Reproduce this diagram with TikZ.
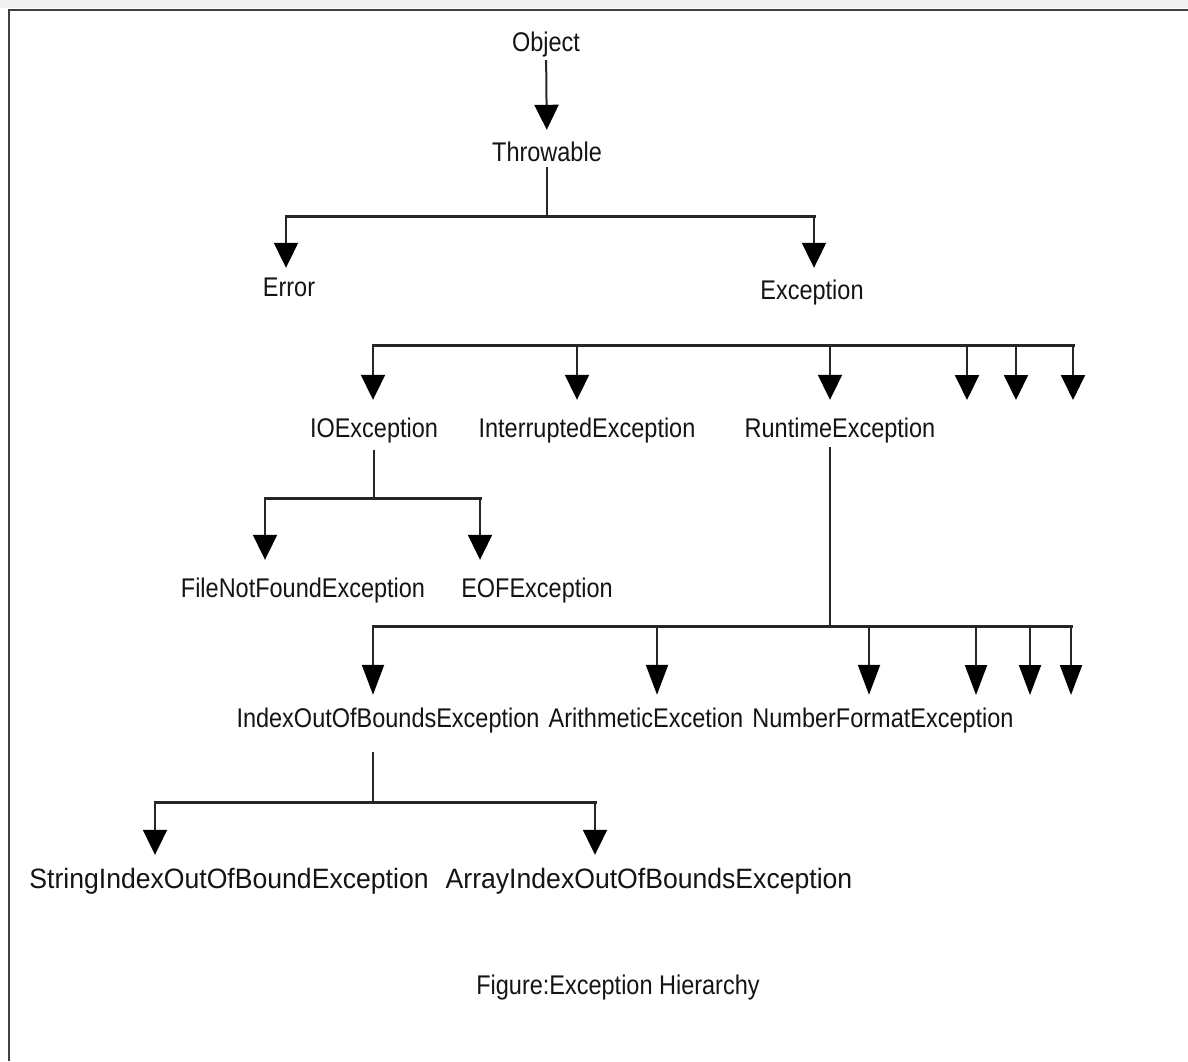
\documentclass[tikz,border=0pt]{standalone}
\usepackage{fontspec}
\newfontfamily\lab{Liberation Sans}[FakeStretch=0.87]
\newfontfamily\labb{Liberation Sans}[FakeStretch=0.95]
\usetikzlibrary{arrows.meta}
\begin{document}
\begin{tikzpicture}[x=1pt,y=-1pt,
  lbl/.style={font=\lab\fontsize{27}{30}\selectfont, text=black!92, inner xsep=0pt, inner ysep=9.5pt, text height=19pt, text depth=6pt},
  lblb/.style={lbl, font=\labb\fontsize{28}{30}\selectfont},
  stem/.style={line width=2pt, draw=black!85},
  bar/.style={line width=3pt, draw=black!85, line cap=rect},
  arr/.style={stem, -{Triangle[width=24pt,length=25pt,fill=black,color=black]}, shorten >=3pt},
  arrl/.style={stem, -{Triangle[width=22pt,length=30pt,fill=black,color=black]}, shorten >=4pt}
]
\useasboundingbox (0,0) rectangle (1188,1061);
\fill[white] (0,0) rectangle (1188,1061);
\fill[black!6] (0,0) rectangle (1188,8);
\draw[line width=2.5pt, black!75] (9,1061) -- (9,10) -- (1188,10);

% nodes
\node[lbl] (object) at (546,45) {Object};
\node[lbl] (throw) at (547,155) {Throwable};
\node[lbl] (err) at (289,290) {Error};
\node[lbl] (exc) at (812,293) {Exception};
\node[lbl] (ioe) at (374,431) {IOException};
\node[lbl] (intr) at (587,431) {InterruptedException};
\node[lbl] (rte) at (840,431) {RuntimeException};
\node[lbl] (fnf) at (303,591) {FileNotFoundException};
\node[lbl] (eof) at (537,591) {EOFException};
\node[lbl] (ioobe) at (388,721) {IndexOutOfBoundsException};
\node[lbl] (arith) at (646,721) {ArithmeticExcetion};
\node[lbl] (nfe) at (883,721) {NumberFormatException};
\node[lblb] (sioobe) at (229,882) {StringIndexOutOfBoundException};
\node[lblb] (aioobe) at (649,882) {ArrayIndexOutOfBoundsException};
\node[lbl] (cap) at (618,988) {Figure:Exception Hierarchy};

% Object -> Throwable
\draw[arr, shorten <=-7pt] (object) -- (throw);

% Throwable -> Error, Exception
\coordinate (b1L) at (286,216);
\coordinate (b1R) at (814,216);
\draw[stem, shorten <=-10pt] (throw.south) -- (throw.south |- b1L);
\draw[bar] (b1L) -- (b1R);
\draw[arr, shorten >=0pt] (b1L) -- (b1L |- err.north);
\draw[arr] (b1R) -- (b1R |- exc.north);

% Exception children
\coordinate (b2a) at (373,345);
\coordinate (b2b) at (577,345);
\coordinate (b2c) at (830,345);
\coordinate (b2d) at (967,345);
\coordinate (b2e) at (1016,345);
\coordinate (b2f) at (1073,345);
\coordinate (t2d) at (967,400);
\coordinate (t2e) at (1016,400);
\coordinate (t2f) at (1073,400);
\draw[bar] (b2a) -- (b2f);
\draw[arr, shorten >=9pt] (b2a) -- (b2a |- ioe.north);
\draw[arr, shorten >=9pt] (b2b) -- (b2b |- intr.north);
\draw[arr, shorten >=9pt] (b2c) -- (b2c |- rte.north);
\draw[arr, shorten >=0pt] (b2d) -- (t2d);
\draw[arr, shorten >=0pt] (b2e) -- (t2e);
\draw[arr, shorten >=0pt] (b2f) -- (t2f);

% IOException children
\coordinate (b3L) at (265,498);
\coordinate (b3s) at (374,498);
\coordinate (b3R) at (480,498);
\draw[stem, shorten <=-3pt] (ioe.south -| b3s) -- (b3s);
\draw[bar] (b3L) -- (b3R);
\draw[arr, shorten >=9pt] (b3L) -- (b3L |- fnf.north);
\draw[arr, shorten >=9pt] (b3R) -- (b3R |- eof.north);

% RuntimeException children
\coordinate (b4s) at (830,626);
\coordinate (b4a) at (373,626);
\coordinate (b4b) at (657,626);
\coordinate (b4c) at (869,626);
\coordinate (b4d) at (976,626);
\coordinate (b4e) at (1030,626);
\coordinate (b4f) at (1071,626);
\coordinate (t4d) at (976,695);
\coordinate (t4e) at (1030,695);
\coordinate (t4f) at (1071,695);
\draw[stem, shorten <=-6pt] (rte.south -| b4s) -- (b4s);
\draw[bar] (b4a) -- (b4f);
\draw[arrl] (b4a) -- (b4a |- ioobe.north);
\draw[arrl] (b4b) -- (b4b |- arith.north);
\draw[arrl] (b4c) -- (b4c |- nfe.north);
\draw[arrl, shorten >=0pt] (b4d) -- (t4d);
\draw[arrl, shorten >=0pt] (b4e) -- (t4e);
\draw[arrl, shorten >=0pt] (b4f) -- (t4f);

% IndexOutOfBoundsException children
\coordinate (b5s) at (373,802);
\coordinate (b5L) at (155,802);
\coordinate (b5R) at (595,802);
\draw[stem, shorten <=9pt] (ioobe.south -| b5s) -- (b5s);
\draw[bar] (b5L) -- (b5R);
\draw[arr, shorten >=5pt] (b5L) -- (b5L |- sioobe.north);
\draw[arr, shorten >=5pt] (b5R) -- (b5R |- aioobe.north);
\end{tikzpicture}
\end{document}
